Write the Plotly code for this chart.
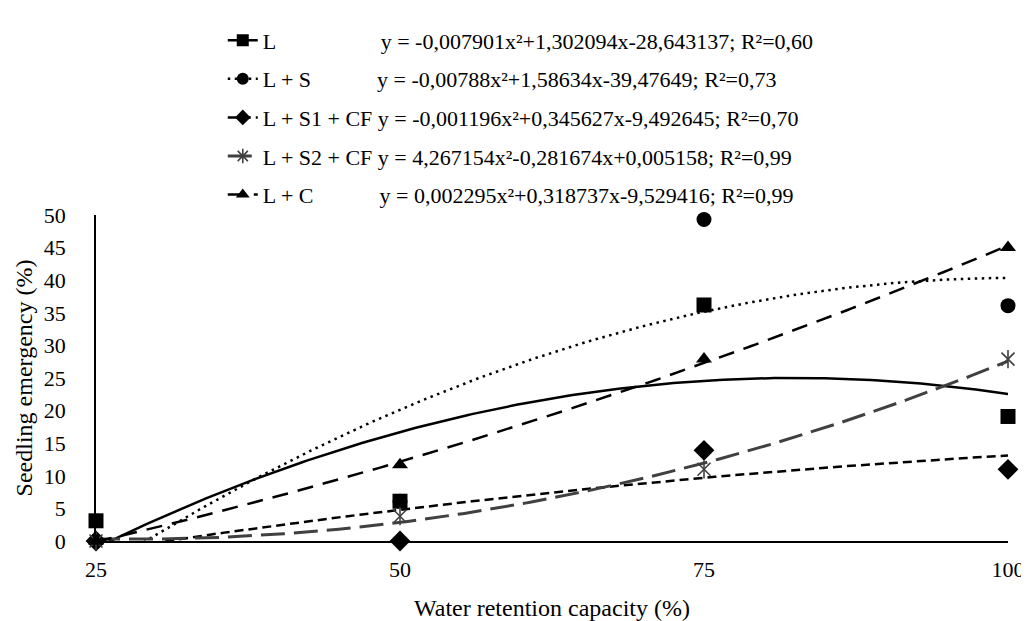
import numpy as np
import plotly.graph_objects as go

# ---- data ----
water_capacity = [25, 50, 75, 100]
tick_labels = ["25", "50", "75", "100"]
series_names = ["L", "L + S", "L + S1 + CF", "L + S2 + CF", "L + C"]
L_vals = [3.1, 6.1, 36.2, 19.1]
LS_vals = [0.0, 6.1, 49.3, 36.1]
LS1CF_vals = [0.0, 0.0, 13.9, 11.0]
LS2CF_vals = [0.0, 3.8, 11.0, 27.9]
LC_vals = [0.0, 11.7, 27.9, 45.0]
y_ticks = [0, 5, 10, 15, 20, 25, 30, 35, 40, 45, 50]

# trendline coefficients printed in the legend (a, b, c for ax²+bx+c)
L_coef = [-0.007901, 1.302094, -28.643137]
LS_coef = [-0.00788, 1.58634, -39.47649]
LS1CF_coef = [-0.001196, 0.345627, -9.492645]
LC_coef = [0.002295, 0.318737, -9.529416]
equations = [
    "y = -0,007901x²+1,302094x-28,643137; R²=0,60",
    "y = -0,00788x²+1,58634x-39,47649; R²=0,73",
    "y = -0,001196x²+0,345627x-9,492645; R²=0,70",
    "y = 4,267154x²-0,281674x+0,005158; R²=0,99",
    "y = 0,002295x²+0,318737x-9,529416; R²=0,99",
]
# printed L+S2+CF equation uses other x units, so refit its trendline on the points
LS2CF_coef = list(np.polyfit(water_capacity, LS2CF_vals, 2))

FONT = "Liberation Serif, Times New Roman, serif"
NB = "\u00a0"
pads = [NB * 19, NB * 12, " ", " ", NB * 12]

styles = [
    dict(vals=L_vals, coef=L_coef, color="#000000", dash="solid", width=2.5,
         symbol="square", size=15),
    dict(vals=LS_vals, coef=LS_coef, color="#000000", dash="2.5px,4.5px", width=2.5,
         symbol="circle", size=15),
    dict(vals=LS1CF_vals, coef=LS1CF_coef, color="#000000", dash="9px,5px", width=2.5,
         symbol="diamond", size=16),
    dict(vals=LS2CF_vals, coef=LS2CF_coef, color="#404040", dash="24px,9px", width=3,
         symbol="asterisk-open", size=13),
    dict(vals=LC_vals, coef=LC_coef, color="#000000", dash="16px,10px", width=2.5,
         symbol="triangle-up", size=14),
]

x_curve = np.linspace(water_capacity[0], water_capacity[-1], 200)

fig = go.Figure()

# trendlines
for st in styles:
    a, b, c = st["coef"]
    fig.add_trace(go.Scatter(
        x=x_curve, y=a * x_curve ** 2 + b * x_curve + c, mode="lines",
        line=dict(color=st["color"], width=st["width"], dash=st["dash"]),
        showlegend=False, hoverinfo="skip"))

# markers (circles drawn first so squares sit on top)
draw_order = [1, 0, 2, 3, 4]
for i in draw_order:
    st = styles[i]
    if st["symbol"] == "asterisk-open":
        for sym in ["x-thin-open", "line-ns-open"]:
            fig.add_trace(go.Scatter(
                x=water_capacity, y=st["vals"], mode="markers",
                marker=dict(symbol=sym, size=13, color=st["color"],
                            line=dict(color=st["color"], width=1.6)),
                cliponaxis=False, showlegend=False))
    else:
        fig.add_trace(go.Scatter(
            x=water_capacity, y=st["vals"], mode="markers",
            marker=dict(symbol=st["symbol"], size=st["size"], color=st["color"],
                        line=dict(width=0)),
            cliponaxis=False, showlegend=False))

# legend entries
for i, st in enumerate(styles):
    mk = dict(symbol=st["symbol"], size=12, color=st["color"])
    if st["symbol"] == "asterisk-open":
        mk["line"] = dict(color=st["color"], width=1.6)
    fig.add_trace(go.Scatter(
        x=[None], y=[None], mode="lines+markers",
        name=series_names[i] + pads[i] + equations[i],
        legendgroup=f"g{i}",
        line=dict(color=st["color"], width=st["width"], dash=st["dash"]),
        marker=mk))

fig.update_layout(
    width=1029, height=621,
    margin=dict(l=88, r=22, t=203, b=78),
    paper_bgcolor="white", plot_bgcolor="white",
    font=dict(family=FONT, size=22, color="#000000"),
    showlegend=True,
    legend=dict(x=0.139, y=1.6, xanchor="left", yanchor="top",
                traceorder="grouped", tracegroupgap=7,
                font=dict(family=FONT, size=22, color="#000000"),
                bgcolor="rgba(0,0,0,0)", itemwidth=30),
    xaxis=dict(range=[25, 100], tickvals=water_capacity, ticktext=tick_labels,
               showgrid=False, zeroline=False, showline=True,
               linecolor="#000000", linewidth=1.8, ticks="",
               ticklabelstandoff=8,
               title=dict(text="Water retention capacity (%)", standoff=18,
                          font=dict(family=FONT, size=24)),
               tickfont=dict(family=FONT, size=22)),
    yaxis=dict(range=[0, 50], tickvals=y_ticks, showgrid=False, zeroline=False,
               showline=True, linecolor="#000000", linewidth=1.8, ticks="",
               ticklabelstandoff=24,
               title=dict(text="Seedling emergency (%)", standoff=4,
                          font=dict(family=FONT, size=24)),
               tickfont=dict(family=FONT, size=22)),
)

fig.write_html("out.html")
